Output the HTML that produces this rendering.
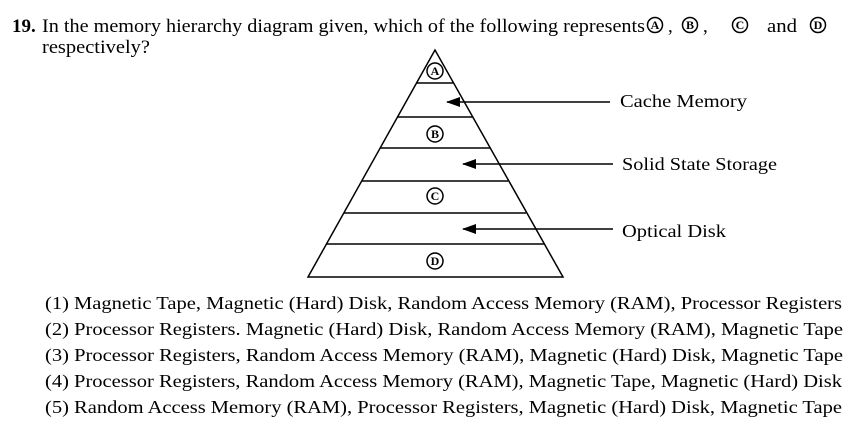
<!DOCTYPE html>
<html><head><meta charset="utf-8"><style>
html,body{margin:0;padding:0;background:#fff;}
svg{display:block;}
text{font-family:"Liberation Serif",serif;fill:#000;}
</style></head><body>
<svg width="868" height="430" viewBox="0 0 868 430" xmlns="http://www.w3.org/2000/svg">
<defs><marker id="ar" markerWidth="14" markerHeight="10" refX="13" refY="5" orient="auto" markerUnits="userSpaceOnUse"><path d="M0,0 L14,5 L0,10 Z" fill="#000"/></marker></defs>
<!-- title -->
<text x="12" y="32" font-size="19" font-weight="bold">19.</text>
<text x="42" y="32" font-size="19" textLength="603" lengthAdjust="spacingAndGlyphs">In the memory hierarchy diagram given, which of the following represents</text>
<g fill="none" stroke="#000" stroke-width="1.5">
<circle cx="655" cy="25" r="7.5"/><circle cx="690" cy="25" r="7.5"/><circle cx="740" cy="25" r="7.5"/><circle cx="818" cy="25" r="7.5"/>
</g>
<g font-size="12" font-weight="bold" text-anchor="middle"><text x="655" y="29">A</text><text x="690" y="29">B</text><text x="740" y="29">C</text><text x="818" y="29">D</text></g>
<text x="668" y="32" font-size="19">,</text><text x="703" y="32" font-size="19">,</text>
<text x="767" y="32" font-size="19" textLength="30" lengthAdjust="spacingAndGlyphs">and</text>
<text x="42" y="53" font-size="19" textLength="108" lengthAdjust="spacingAndGlyphs">respectively?</text>
<!-- pyramid -->
<g stroke="#000" stroke-width="1.5" fill="none">
<path d="M435,50 L308,277 L563,277 Z"/>
<line x1="416" y1="83" x2="453" y2="83"/>
<line x1="397" y1="117" x2="473" y2="117"/>
<line x1="380" y1="148" x2="490" y2="148"/>
<line x1="362" y1="181" x2="508" y2="181"/>
<line x1="344" y1="213" x2="526" y2="213"/>
<line x1="326" y1="244" x2="544" y2="244"/>
<circle cx="435" cy="71" r="8"/><circle cx="435" cy="134" r="8"/><circle cx="435" cy="196" r="8"/><circle cx="435" cy="261" r="8"/>
<line x1="610" y1="102" x2="447" y2="102" marker-end="url(#ar)"/>
<line x1="613" y1="164" x2="463" y2="164" marker-end="url(#ar)"/>
<line x1="613" y1="229" x2="463" y2="229" marker-end="url(#ar)"/>
</g>
<g font-size="12" font-weight="bold" text-anchor="middle"><text x="435" y="75">A</text><text x="435" y="138">B</text><text x="435" y="200">C</text><text x="435" y="265">D</text></g>
<text x="620" y="107" font-size="18" textLength="127" lengthAdjust="spacingAndGlyphs">Cache Memory</text>
<text x="622" y="170" font-size="18" textLength="155" lengthAdjust="spacingAndGlyphs">Solid State Storage</text>
<text x="622" y="237" font-size="18" textLength="104" lengthAdjust="spacingAndGlyphs">Optical Disk</text>
<!-- options -->
<g font-size="18">
<text x="45" y="309" textLength="797" lengthAdjust="spacingAndGlyphs">(1) Magnetic Tape, Magnetic (Hard) Disk, Random Access Memory (RAM), Processor Registers</text>
<text x="45" y="335" textLength="798" lengthAdjust="spacingAndGlyphs">(2) Processor Registers. Magnetic (Hard) Disk, Random Access Memory (RAM), Magnetic Tape</text>
<text x="45" y="361" textLength="798" lengthAdjust="spacingAndGlyphs">(3) Processor Registers, Random Access Memory (RAM), Magnetic (Hard) Disk, Magnetic Tape</text>
<text x="45" y="387" textLength="797" lengthAdjust="spacingAndGlyphs">(4) Processor Registers, Random Access Memory (RAM), Magnetic Tape, Magnetic (Hard) Disk</text>
<text x="45" y="413" textLength="797" lengthAdjust="spacingAndGlyphs">(5) Random Access Memory (RAM), Processor Registers, Magnetic (Hard) Disk, Magnetic Tape</text>
</g>
</svg>
</body></html>
